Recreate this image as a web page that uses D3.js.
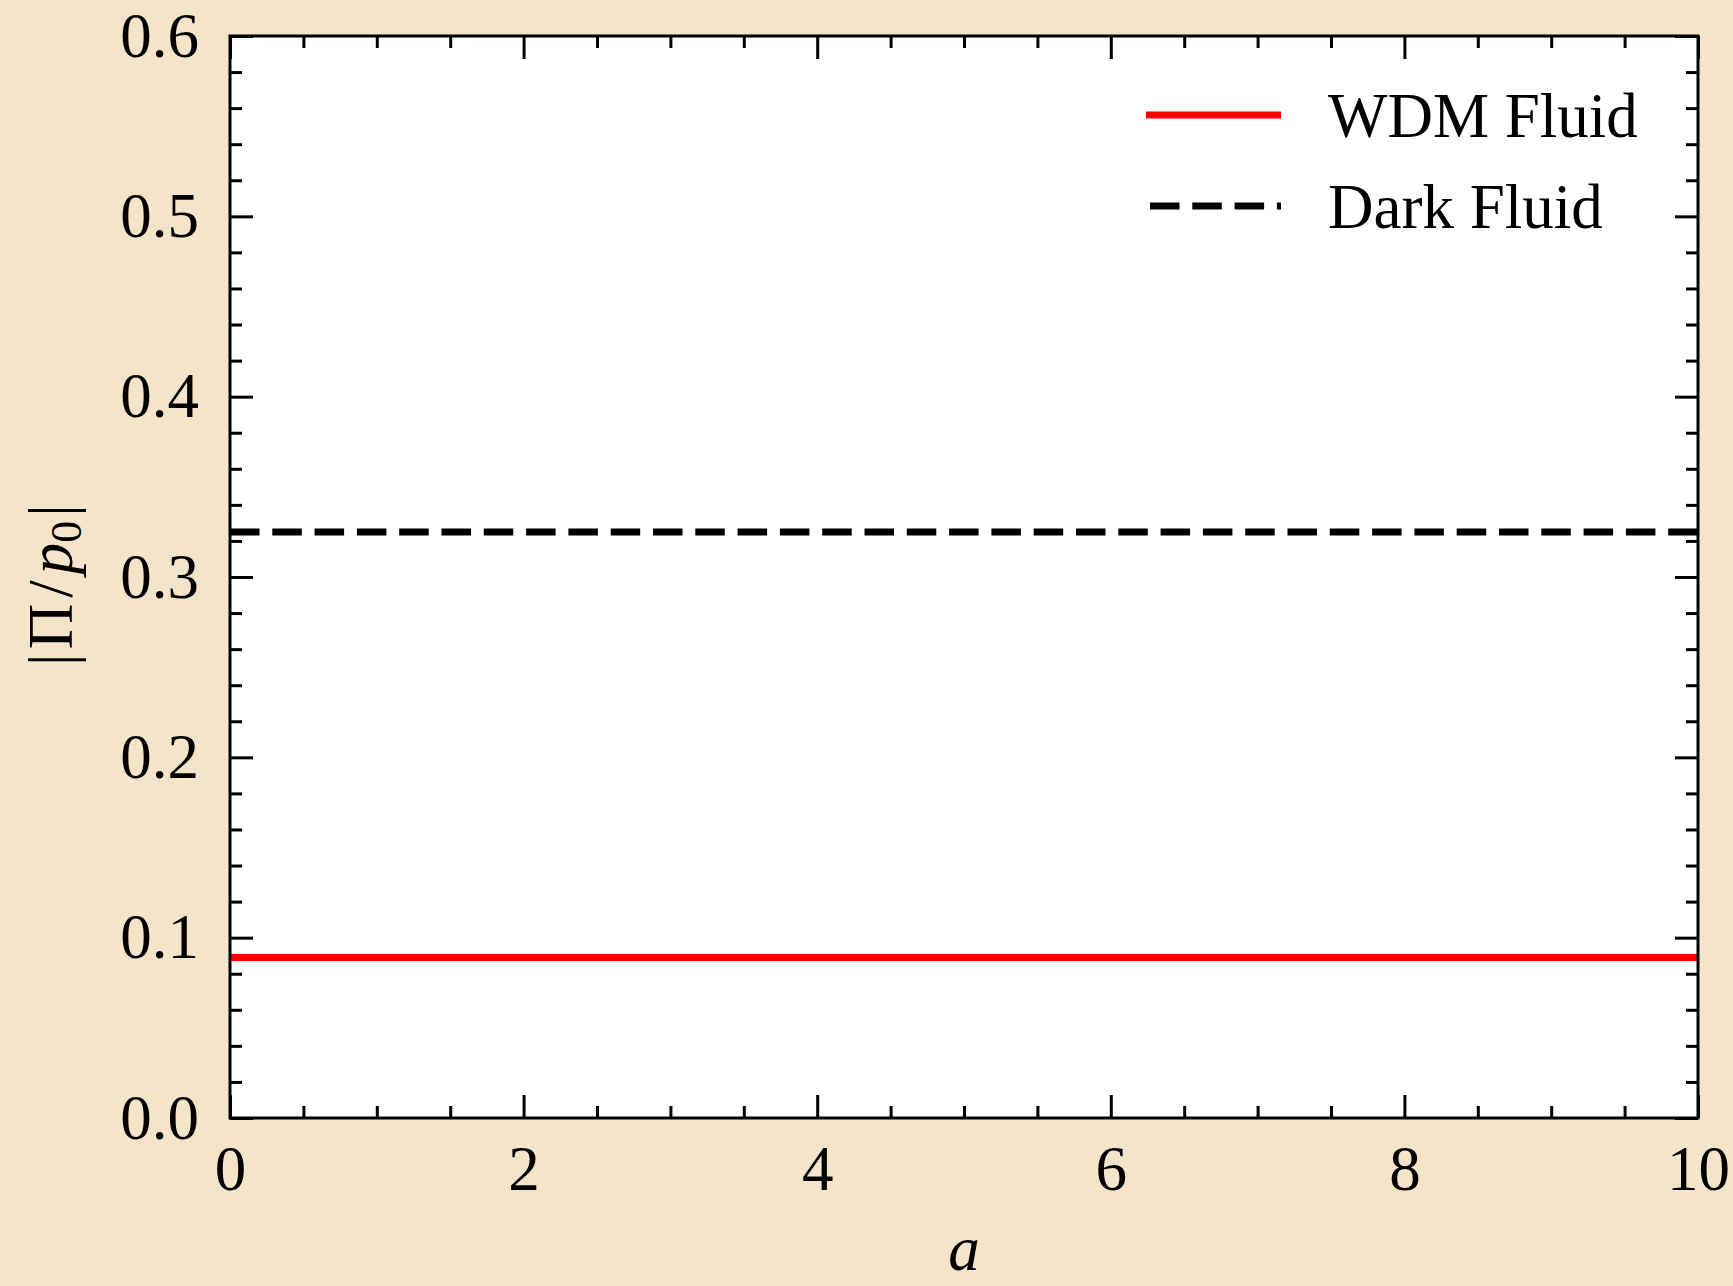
<!DOCTYPE html>
<html>
<head>
<meta charset="utf-8">
<script src="https://cdn.jsdelivr.net/npm/d3@7"></script>
<style>
  html, body { margin: 0; padding: 0; background: #f4e4c9; }
  svg { display: block; }
  text { font-family: "Liberation Serif", "DejaVu Serif", serif; fill: #000; }
</style>
</head>
<body>
<svg id="chart" width="1733" height="1286"></svg>
<script>
// ---- data ----
const aValues = [0, 1, 2, 3, 4, 5, 6, 7, 8, 9, 10];
const wdmFluid = [0.089, 0.089, 0.089, 0.089, 0.089, 0.089, 0.089, 0.089, 0.089, 0.089, 0.089];
const darkFluid = [0.325, 0.325, 0.325, 0.325, 0.325, 0.325, 0.325, 0.325, 0.325, 0.325, 0.325];
const seriesNames = ["WDM Fluid", "Dark Fluid"];
const xMajorTicks = [0, 2, 4, 6, 8, 10];
const yMajorTicks = [0.0, 0.1, 0.2, 0.3, 0.4, 0.5, 0.6];
const yTickLabels = ["0.0", "0.1", "0.2", "0.3", "0.4", "0.5", "0.6"];

// ---- layout ----
const W = 1733, H = 1286;
const pL = 230, pR = 1698, pT = 36, pB = 1118;
const svg = d3.select("#chart");
svg.append("rect").attr("width", W).attr("height", H).attr("fill", "#f4e4c9");
svg.append("rect").attr("x", pL).attr("y", pT).attr("width", pR - pL).attr("height", pB - pT).attr("fill", "#fff");

const x = d3.scaleLinear().domain([0, 10]).range([pL, pR]);
const y = d3.scaleLinear().domain([0, 0.6]).range([pB, pT]);

const xMinor = d3.range(0, 10.001, 0.5).filter(v => !xMajorTicks.some(t => Math.abs(t - v) < 1e-9));
const yMinor = d3.range(0, 0.6001, 0.02).filter(v => !yMajorTicks.some(t => Math.abs(t - v) < 1e-9));

// clip
svg.append("clipPath").attr("id", "clip").append("rect")
  .attr("x", pL).attr("y", pT).attr("width", pR - pL).attr("height", pB - pT);

// lines
const line = d3.line().x((d, i) => x(aValues[i])).y(d => y(d));
svg.append("path").datum(wdmFluid).attr("clip-path", "url(#clip)")
  .attr("d", line).attr("fill", "none").attr("stroke", "#ff0000").attr("stroke-width", 7);
svg.append("path").datum(darkFluid).attr("clip-path", "url(#clip)")
  .attr("d", line).attr("fill", "none").attr("stroke", "#000").attr("stroke-width", 7)
  .attr("stroke-dasharray", "29.5,12.8");

// axes
function styleAxis(g) {
  g.select(".domain").remove();
  g.selectAll(".tick line").attr("stroke", "#000").attr("stroke-width", 3);
  g.selectAll(".tick text").attr("font-size", 63).attr("font-family", "Liberation Serif").attr("fill", "#000");
}
// bottom
svg.append("g").attr("transform", `translate(0,${pB})`)
  .call(d3.axisBottom(x).tickValues(xMinor).tickFormat("").tickSizeInner(-12).tickSizeOuter(0)).call(styleAxis);
svg.append("g").attr("transform", `translate(0,${pB})`)
  .call(d3.axisBottom(x).tickValues(xMajorTicks).tickFormat(d3.format("d")).tickSizeInner(-23).tickSizeOuter(0).tickPadding(27)).call(styleAxis);
// top
svg.append("g").attr("transform", `translate(0,${pT})`)
  .call(d3.axisTop(x).tickValues(xMinor).tickFormat("").tickSizeInner(-12).tickSizeOuter(0)).call(styleAxis);
svg.append("g").attr("transform", `translate(0,${pT})`)
  .call(d3.axisTop(x).tickValues(xMajorTicks).tickFormat("").tickSizeInner(-23).tickSizeOuter(0)).call(styleAxis);
// left
svg.append("g").attr("transform", `translate(${pL},0)`)
  .call(d3.axisLeft(y).tickValues(yMinor).tickFormat("").tickSizeInner(-12).tickSizeOuter(0)).call(styleAxis);
svg.append("g").attr("transform", `translate(${pL},0)`)
  .call(d3.axisLeft(y).tickValues(yMajorTicks).tickFormat((d, i) => yTickLabels[i]).tickSizeInner(-23).tickSizeOuter(0).tickPadding(31)).call(styleAxis);
// right
svg.append("g").attr("transform", `translate(${pR},0)`)
  .call(d3.axisRight(y).tickValues(yMinor).tickFormat("").tickSizeInner(-12).tickSizeOuter(0)).call(styleAxis);
svg.append("g").attr("transform", `translate(${pR},0)`)
  .call(d3.axisRight(y).tickValues(yMajorTicks).tickFormat("").tickSizeInner(-23).tickSizeOuter(0)).call(styleAxis);

// frame
svg.append("rect").attr("x", pL).attr("y", pT).attr("width", pR - pL).attr("height", pB - pT)
  .attr("fill", "none").attr("stroke", "#000").attr("stroke-width", 3);

// axis labels
svg.append("text").attr("x", (pL + pR) / 2).attr("y", 1270).attr("text-anchor", "middle")
  .attr("font-size", 63).attr("font-style", "italic").text("a");

const yl = svg.append("text").attr("transform", "translate(72,585) rotate(-90)")
  .attr("text-anchor", "middle").attr("font-size", 63);
yl.append("tspan").text("|");
yl.append("tspan").attr("dx", 4).text("Π");
yl.append("tspan").attr("dx", 6).text("/");
yl.append("tspan").attr("dx", 6).attr("font-style", "italic").text("p");
yl.append("tspan").attr("font-size", 44).attr("dy", 9).text("0");
yl.append("tspan").attr("dx", 4).attr("dy", -9).text("|");

// legend
const legendItems = [
  { name: seriesNames[0], color: "#ff0000", dash: null, y: 115 },
  { name: seriesNames[1], color: "#000", dash: "29.5,12.8", y: 206 }
];
const lg = svg.append("g");
legendItems.forEach(it => {
  const l = lg.append("line").attr("x1", 1146).attr("x2", 1281).attr("y1", it.y).attr("y2", it.y)
    .attr("stroke", it.color).attr("stroke-width", 7);
  if (it.dash) l.attr("stroke-dasharray", it.dash).attr("x1", 1150);
  lg.append("text").attr("x", 1328).attr("y", it.y + 22).attr("font-size", 63).text(it.name);
});
</script>
</body>
</html>
